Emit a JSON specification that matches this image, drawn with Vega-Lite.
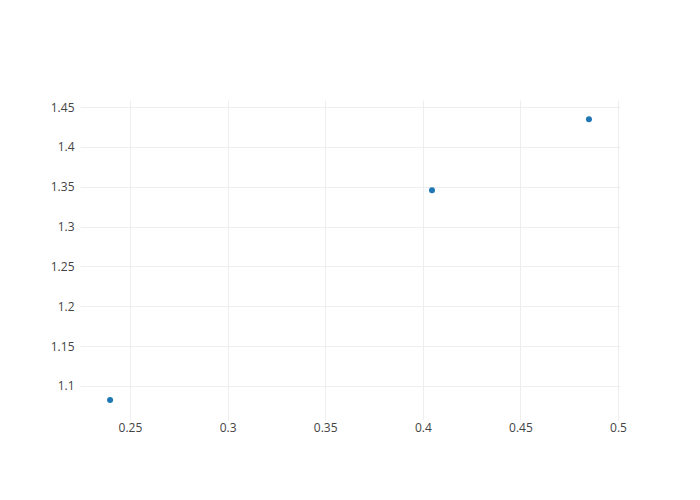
{
  "$schema": "https://vega.github.io/schema/vega-lite/v6.json",
  "width": 540,
  "height": 320,
  "autosize": {"type": "none"},
  "padding": {"left": 80, "top": 100, "right": 80, "bottom": 80},
  "background": "white",
  "config": {"view": {"stroke": null}, "font": "Open Sans"},
  "data": {"values": [
    {"x": 0.2398, "y": 1.0824},
    {"x": 0.4047, "y": 1.3455},
    {"x": 0.4851, "y": 1.4345}
  ]},
  "mark": {"type": "circle", "size": 36, "color": "#1f77b4", "opacity": 1},
  "encoding": {
    "x": {"field": "x", "type": "quantitative", "title": null,
      "scale": {"domain": [0.2244, 0.501], "nice": false, "zero": false},
      "axis": {"values": [0.25, 0.3, 0.35, 0.4, 0.45, 0.5], "format": ".2~f", "domain": false, "ticks": false,
        "gridColor": "#eeeeee", "gridWidth": 1, "labelColor": "#444444", "labelFontSize": 12, "labelPadding": 2, "labelFont": "Open Sans"}},
    "y": {"field": "y", "type": "quantitative", "title": null,
      "scale": {"domain": [1.0573, 1.4588], "nice": false, "zero": false},
      "axis": {"values": [1.1, 1.15, 1.2, 1.25, 1.3, 1.35, 1.4, 1.45], "format": ".2~f", "domain": false, "ticks": false,
        "gridColor": "#eeeeee", "gridWidth": 1, "labelColor": "#444444", "labelFontSize": 12, "labelPadding": 6, "labelFont": "Open Sans"}}
  }
}
